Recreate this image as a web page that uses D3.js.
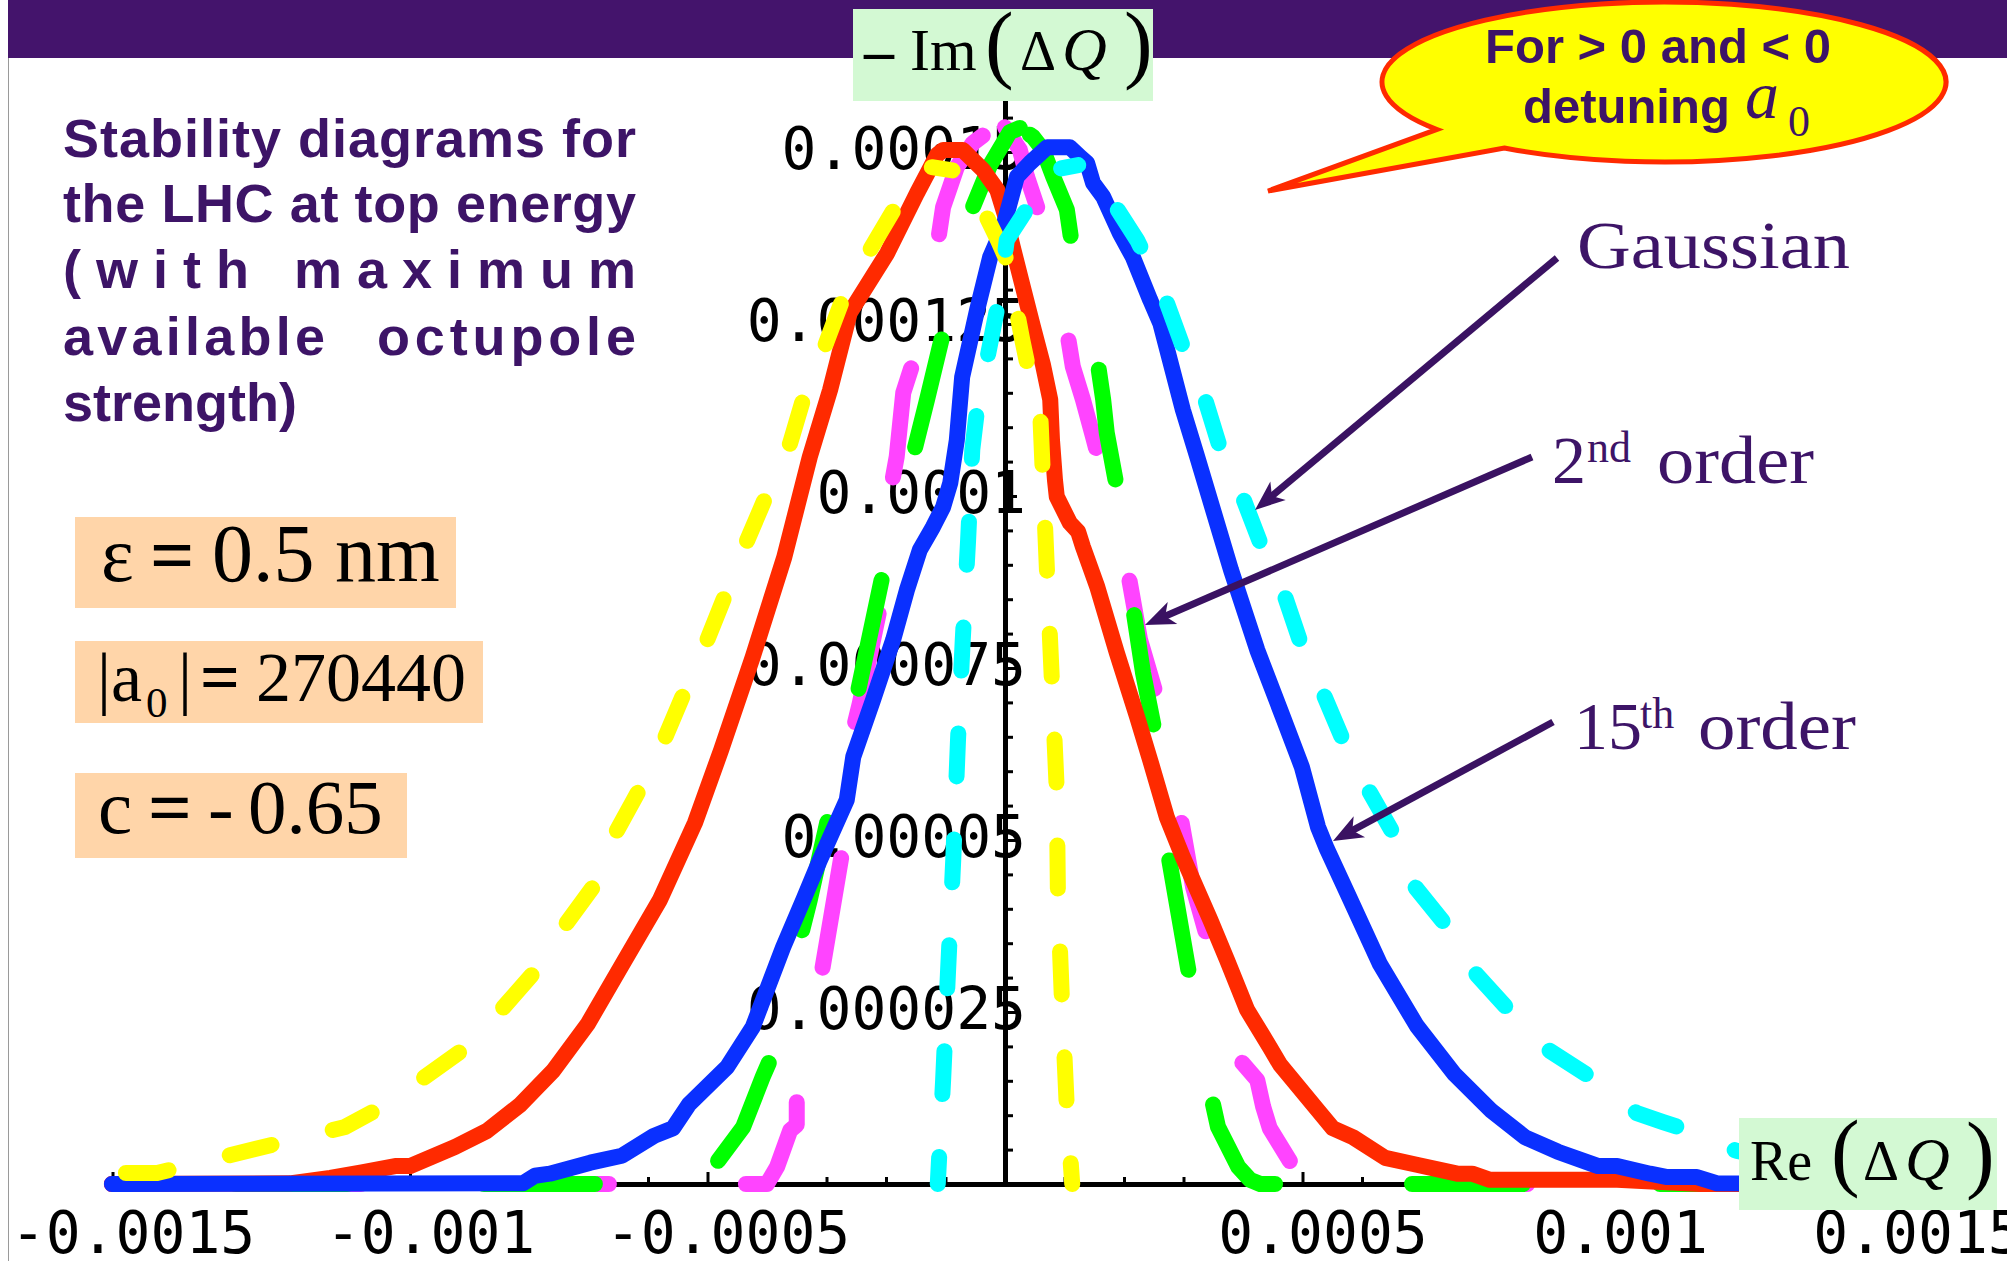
<!DOCTYPE html>
<html>
<head>
<meta charset="utf-8">
<script src="https://cdn.jsdelivr.net/npm/d3@7"></script>
<style>
  html, body { margin: 0; padding: 0; background: #ffffff; }
  svg { display: block; }
</style>
</head>
<body>
<svg id="chart" width="2007" height="1261" xmlns="http://www.w3.org/2000/svg"></svg>
<script>
// ---------------- DATA ----------------
// Re(ΔQ) values are given in units of 1e-3, -Im(ΔQ) values in units of 1e-6
const RE_UNIT = 1e-3;
const IM_UNIT = 1e-6;

const xTickValues = [-0.0015, -0.001, -0.0005, 0.0005, 0.001, 0.0015];
const xTickLabels = ["-0.0015", "-0.001", "-0.0005", "0.0005", "0.001", "0.0015"];
const yTickValues = [0.000025, 0.00005, 0.000075, 0.0001, 0.000125, 0.00015];
const yTickLabels = ["0.000025", "0.00005", "0.000075", "0.0001", "0.000125", "0.00015"];

// 2nd order, positive detuning (magenta dashed)
const secondPos = [[-1.501,0],[-0.400,0],[-0.383,2.5],[-0.373,4.9],[-0.361,7.8],[-0.350,8.6],[-0.350,12.2],[-0.311,29.2],[-0.274,48.1],[-0.255,66.0],[-0.244,69.9],[-0.210,83.9],[-0.190,101.9],[-0.182,105.7],[-0.171,115.0],[-0.155,119.3],[-0.113,136.8],[-0.104,142.0],[-0.081,147.8],[-0.054,151.3],[-0.025,153.2],[0.000,153.6],[0.025,150.3],[0.037,146.4],[0.054,142.0],[0.104,124.1],[0.114,118.8],[0.131,114.0],[0.148,108.6],[0.155,106.3],[0.207,88.8],[0.227,79.1],[0.255,70.8],[0.294,53.9],[0.316,43.2],[0.341,35.5],[0.395,18.0],[0.424,15.1],[0.434,11.2],[0.445,8.1],[0.484,2.6],[0.496,1.7],[0.513,0],[1.501,0]];

// 2nd order, negative detuning (green dashed)
const secondNeg = [[-1.501,0],[-0.504,0],[-0.494,2.0],[-0.440,8.3],[-0.407,15.6],[-0.395,18.0],[-0.345,35.5],[-0.328,41.3],[-0.294,54.4],[-0.249,70.8],[-0.205,88.8],[-0.155,105.7],[-0.131,114.0],[-0.104,123.7],[-0.054,142.0],[-0.025,148.1],[0.008,152.9],[0.025,153.5],[0.047,152.2],[0.064,150.3],[0.081,146.4],[0.104,141.6],[0.113,136.2],[0.156,119.3],[0.165,114.0],[0.171,109.2],[0.188,101.3],[0.215,83.9],[0.232,74.3],[0.252,65.6],[0.274,48.1],[0.311,29.7],[0.348,12.2],[0.358,8.3],[0.392,2.5],[0.412,0.6],[0.429,0],[1.501,0]];

// 15th order, negative detuning (red solid)
const fifteenthNeg = [[-1.501,0],[-1.202,0.1],[-1.134,0.9],[-1.081,1.7],[-1.025,2.6],[-1.000,2.6],[-0.924,5.4],[-0.871,7.7],[-0.815,11.5],[-0.760,16.4],[-0.701,23.3],[-0.644,31.8],[-0.580,41.3],[-0.521,52.5],[-0.477,63.1],[-0.424,76.6],[-0.371,91.1],[-0.328,105.7],[-0.294,115.4],[-0.261,126.6],[-0.198,135.3],[-0.148,144.0],[-0.114,149.6],[-0.104,150.3],[-0.071,150.3],[-0.037,147.4],[-0.013,144.5],[0.000,140.8],[0.013,136.2],[0.030,130.4],[0.047,124.6],[0.064,119.0],[0.076,114.0],[0.079,108.1],[0.084,102.3],[0.087,99.9],[0.109,96.1],[0.123,94.8],[0.131,92.6],[0.155,86.8],[0.188,77.2],[0.222,67.9],[0.244,61.6],[0.272,53.3],[0.299,47.5],[0.345,38.4],[0.373,32.6],[0.407,25.3],[0.445,19.9],[0.462,17.4],[0.524,10.9],[0.551,8.1],[0.585,6.8],[0.639,3.8],[0.692,2.8],[0.760,1.5],[0.785,1.5],[0.815,0.6],[1.029,0.6],[1.168,0],[1.501,0]];

// 15th order, positive detuning (blue solid)
const fifteenthPos = [[-1.501,0],[-0.810,0.1],[-0.790,1.2],[-0.765,1.5],[-0.731,2.3],[-0.697,3.1],[-0.644,4.1],[-0.590,7.0],[-0.558,8.1],[-0.531,11.6],[-0.467,17.0],[-0.424,22.8],[-0.373,34.4],[-0.339,41.3],[-0.311,47.1],[-0.266,55.8],[-0.255,62.1],[-0.222,70.3],[-0.188,79.1],[-0.165,86.3],[-0.143,92.2],[-0.121,95.5],[-0.104,98.4],[-0.092,101.9],[-0.081,108.1],[-0.072,117.3],[-0.047,127.0],[-0.025,134.7],[-0.003,139.1],[0.020,146.4],[0.042,148.4],[0.071,150.7],[0.109,150.7],[0.126,149.3],[0.138,148.4],[0.148,145.5],[0.165,143.5],[0.193,138.2],[0.215,134.7],[0.244,128.5],[0.261,125.1],[0.277,119.8],[0.299,112.5],[0.323,105.7],[0.380,89.2],[0.424,77.6],[0.467,67.9],[0.499,60.6],[0.526,51.9],[0.541,48.7],[0.580,41.4],[0.630,32.0],[0.692,23.0],[0.755,16.0],[0.818,10.6],[0.874,6.8],[0.929,4.7],[0.997,2.6],[1.029,2.6],[1.084,1.5],[1.113,1.0],[1.163,1.0],[1.197,0.1],[1.501,0]];

// Gaussian, negative detuning (yellow dashed)
const gaussNeg = [[-1.501,1.6],[-1.425,1.6],[-1.109,8.3],[-1.062,10.5],[-0.987,14.8],[-0.916,19.2],[-0.854,24.6],[-0.795,30.4],[-0.743,37.2],[-0.692,43.2],[-0.661,50.0],[-0.612,57.7],[-0.575,64.1],[-0.536,72.1],[-0.504,78.3],[-0.467,86.3],[-0.435,93.2],[-0.397,100.9],[-0.361,107.7],[-0.336,115.0],[-0.303,121.7],[-0.269,129.5],[-0.224,136.2],[-0.182,142.3],[-0.123,147.8],[-0.071,147.1],[-0.050,144.0],[-0.012,137.2],[0.008,133.3],[0.013,129.9],[0.029,122.7],[0.050,114.0],[0.059,112.5],[0.071,88.2],[0.079,72.8],[0.087,57.3],[0.089,41.7],[0.096,26.0],[0.104,11.0],[0.113,0]];

// Gaussian, positive detuning (cyan dashed)
const gaussPos = [[-0.113,0],[-0.104,15.1],[-0.096,30.4],[-0.087,47.1],[-0.079,64.5],[-0.071,79.1],[-0.062,93.6],[-0.055,106.7],[-0.047,112.5],[-0.008,129.5],[0.003,137.2],[0.054,144.0],[0.064,147.1],[0.123,148.1],[0.182,142.6],[0.222,137.2],[0.266,129.5],[0.299,121.7],[0.333,115.0],[0.361,107.1],[0.397,100.4],[0.429,93.2],[0.467,86.3],[0.499,78.1],[0.531,72.1],[0.570,64.1],[0.610,57.4],[0.655,50.6],[0.689,43.2],[0.743,37.4],[0.793,30.4],[0.854,24.6],[0.913,19.5],[0.992,15.1],[1.062,10.3],[1.106,9.0],[1.148,7.8],[1.230,4.8],[1.425,1.6],[1.501,1.6]];

// ---------------- STYLES (drawing order bottom -> top) ----------------
// dashed curves are stroked in two halves (rising / falling side), each with its own dash phase
// "phase" = a point (same units as the data) where a visible dash begins on that half
const LINE_W = 16;
const seriesList = [
  { data: secondPos,    color: "#ff44ff", dash: [111, 137], phase: [[-0.255, 66.0], [0.207, 88.8]] },
  { data: secondNeg,    color: "#00ff00", dash: [111, 137], phase: [[-0.249, 70.8], [0.215, 83.9]] },
  { data: fifteenthNeg, color: "#ff2a00", dash: null },
  { data: fifteenthPos, color: "#0a30ff", dash: null },
  { data: gaussNeg,     color: "#ffff00", dash: [43, 63],   phase: [[-0.987, 14.8], [0.062, 96.5]] },
  { data: gaussPos,     color: "#00ffff", dash: [43, 63],   phase: [[-0.067, 88.8], [0.397, 100.4]] }
];

// ---------------- CHART ----------------
const W = 2007, H = 1261;
const PURPLE = "#44146c";
const TEXT_PURPLE = "#3d1467";
const svg = d3.select("#chart");

svg.append("rect").attr("x", 0).attr("y", 0).attr("width", W).attr("height", H).attr("fill", "#ffffff");
svg.append("rect").attr("x", 8).attr("y", 0).attr("width", W - 8).attr("height", 58).attr("fill", PURPLE);
svg.append("line").attr("x1", 8.5).attr("x2", 8.5).attr("y1", 58).attr("y2", H)
  .attr("stroke", "#9a9a9a").attr("stroke-width", 1);

// left title block
const sans = "'Liberation Sans', Arial, sans-serif";
const titleG = svg.append("g").attr("fill", TEXT_PURPLE)
  .style("font-family", sans).style("font-weight", "bold").style("font-size", "54px");
titleG.append("text").attr("x", 63).attr("y", 157).attr("textLength", 573).attr("lengthAdjust", "spacing").text("Stability diagrams for");
titleG.append("text").attr("x", 63).attr("y", 222).attr("textLength", 573).attr("lengthAdjust", "spacing").text("the LHC at top energy");
titleG.append("text").attr("x", 63).attr("y", 288).attr("textLength", 573).attr("lengthAdjust", "spacing").text("(with maximum");
titleG.append("text").attr("x", 63).attr("y", 355).attr("textLength", 262).attr("lengthAdjust", "spacing").text("available");
titleG.append("text").attr("x", 377).attr("y", 355).attr("textLength", 259).attr("lengthAdjust", "spacing").text("octupole");
titleG.append("text").attr("x", 63).attr("y", 421).text("strength)");

// parameter boxes
const PEACH = "#ffd5a9";
const serif = "'Liberation Serif', 'Times New Roman', serif";
svg.append("rect").attr("x", 75).attr("y", 517).attr("width", 381).attr("height", 91).attr("fill", PEACH);
svg.append("rect").attr("x", 75).attr("y", 641).attr("width", 408).attr("height", 82).attr("fill", PEACH);
svg.append("rect").attr("x", 75).attr("y", 773).attr("width", 332).attr("height", 85).attr("fill", PEACH);

const b1 = svg.append("g").style("font-family", serif).attr("fill", "#000");
b1.append("text").attr("x", 101).attr("y", 581).style("font-size", "78px").text("ε");
b1.append("text").attr("x", 150).attr("y", 581).style("font-size", "78px").style("font-weight", "bold").text("=");
b1.append("text").attr("x", 212).attr("y", 581).style("font-size", "82px").text("0.5 nm");

b1.append("text").attr("x", 97).attr("y", 701).style("font-size", "70px").text("|a");
b1.append("text").attr("x", 146).attr("y", 717).style("font-size", "43px").text("0");
b1.append("text").attr("x", 178).attr("y", 701).style("font-size", "70px").text("|");
b1.append("text").attr("x", 200).attr("y", 701).style("font-size", "70px").style("font-weight", "bold").text("=");
b1.append("text").attr("x", 256).attr("y", 701).style("font-size", "70px").text("270440");

b1.append("text").attr("x", 98).attr("y", 833).style("font-size", "77px").text("c");
b1.append("text").attr("x", 148).attr("y", 833).style("font-size", "77px").style("font-weight", "bold").text("=");
b1.append("text").attr("x", 208).attr("y", 833).style("font-size", "77px").text("-");
b1.append("text").attr("x", 248).attr("y", 833).style("font-size", "77px").text("0.65");

// scales
const x = d3.scaleLinear().domain([-0.0015, 0.0015]).range([112.5, 1897.5]);
const y = d3.scaleLinear().domain([0, 0.00015]).range([1184, 152]);
const yTop = 0.000158;

const monoFont = "'DejaVu Sans Mono', monospace";
const eps = 1e-12;
const isIn = (arr, v) => arr.findIndex(a => Math.abs(a - v) < eps);

// x axis (ticks every 1e-4, pointing inward)
const xMinor = d3.range(-15, 16).filter(k => k !== 0).map(k => k * 1e-4);
const xAxis = d3.axisBottom(x).tickValues(xMinor).tickSizeInner(-7).tickSizeOuter(0).tickPadding(0)
  .tickFormat(d => { const i = isIn(xTickValues, d); return i >= 0 ? xTickLabels[i] : ""; });
const gx = svg.append("g").attr("transform", `translate(0,${y(0)})`).call(xAxis);
gx.select(".domain").attr("stroke", "#000").attr("stroke-width", 5);
gx.selectAll(".tick line").attr("stroke", "#000").attr("stroke-width", 3)
  .attr("y2", d => isIn(xTickValues, d) >= 0 ? -12 : -7);
gx.selectAll(".tick text").attr("y", 69).attr("dy", 0).attr("dx", 20).attr("fill", "#000")
  .style("font-family", monoFont).style("font-size", "58px");

// y axis (ticks every 5e-6, pointing inward)
const yAxisScale = y.copy().domain([0, yTop]).range([y(0), y(yTop)]);
const yMinor = d3.range(1, 32).map(k => k * 5e-6);
const yAxis = d3.axisLeft(yAxisScale).tickValues(yMinor).tickSizeInner(-8).tickSizeOuter(0).tickPadding(0)
  .tickFormat(d => { const i = isIn(yTickValues, d); return i >= 0 ? yTickLabels[i] : ""; });
const gy = svg.append("g").attr("transform", `translate(${x(0)},0)`).call(yAxis);
gy.select(".domain").attr("stroke", "#000").attr("stroke-width", 5);
gy.selectAll(".tick line").attr("stroke", "#000").attr("stroke-width", 3)
  .attr("x2", d => isIn(yTickValues, d) >= 0 ? 12 : 8);
gy.selectAll(".tick text").attr("x", 21).attr("y", -4).attr("dy", "0.36em").attr("text-anchor", "end").attr("fill", "#000")
  .style("font-family", monoFont).style("font-size", "58px");

// curves
const line = d3.line().x(d => x(d[0] * RE_UNIT)).y(d => y(d[1] * IM_UNIT));
const curvesG = svg.append("g").attr("fill", "none");

function lengthAt(pathNode, px, py) {
  const total = pathNode.getTotalLength();
  let best = 0, bestD = Infinity;
  for (let s = 0; s <= total; s += 1) {
    const p = pathNode.getPointAtLength(s);
    const d = (p.x - px) * (p.x - px) + (p.y - py) * (p.y - py);
    if (d < bestD) { bestD = d; best = s; }
  }
  return best;
}

seriesList.forEach(s => {
  if (!s.dash) {
    curvesG.append("path").attr("d", line(s.data))
      .attr("stroke", s.color).attr("stroke-width", LINE_W)
      .attr("stroke-linejoin", "round").attr("stroke-linecap", "round");
    return;
  }
  const peak = d3.maxIndex(s.data, d => d[1]);
  const halves = [s.data.slice(0, peak + 1), s.data.slice(peak)];
  const period = s.dash[0] + s.dash[1];
  halves.forEach((h, i) => {
    const p = curvesG.append("path").attr("d", line(h))
      .attr("stroke", s.color).attr("stroke-width", LINE_W)
      .attr("stroke-linejoin", "round").attr("stroke-linecap", "round")
      .attr("stroke-dasharray", s.dash.join(","));
    const a = s.phase[i];
    const sa = lengthAt(p.node(), x(a[0] * RE_UNIT), y(a[1] * IM_UNIT)) + LINE_W / 2;
    const off = ((-sa) % period + period) % period;
    p.attr("stroke-dashoffset", off);
  });
});

// axis label boxes
const MINT = "#d3f9d3";
svg.append("rect").attr("x", 853).attr("y", 9).attr("width", 300).attr("height", 92).attr("fill", MINT);
const imG = svg.append("g").style("font-family", serif).attr("fill", "#000");
imG.append("text").attr("x", 864).attr("y", 71).style("font-size", "60px").style("font-weight", "bold").text("–");
imG.append("text").attr("x", 910).attr("y", 70).style("font-size", "60px").text("Im");
imG.append("text").attr("x", 985).attr("y", 72).style("font-size", "86px").text("(");
imG.append("text").attr("x", 1020).attr("y", 70).style("font-size", "56px").text("Δ");
imG.append("text").attr("x", 1062).attr("y", 70).style("font-size", "62px").style("font-style", "italic").text("Q");
imG.append("text").attr("x", 1124).attr("y", 72).style("font-size", "86px").text(")");

svg.append("rect").attr("x", 1739).attr("y", 1118).attr("width", 258).attr("height", 92).attr("fill", MINT);
const reG = svg.append("g").style("font-family", serif).attr("fill", "#000");
reG.append("text").attr("x", 1750).attr("y", 1180).style("font-size", "56px").text("Re");
reG.append("text").attr("x", 1831).attr("y", 1180).style("font-size", "86px").text("(");
reG.append("text").attr("x", 1863).attr("y", 1180).style("font-size", "56px").text("Δ");
reG.append("text").attr("x", 1905).attr("y", 1180).style("font-size", "62px").style("font-style", "italic").text("Q");
reG.append("text").attr("x", 1966).attr("y", 1182).style("font-size", "86px").text(")");

// callout bubble
const cx = 1664, cy = 82, rx = 282, ry = 80;
const ptA = [cx + rx * Math.cos(143.6 * Math.PI / 180), cy + ry * Math.sin(143.6 * Math.PI / 180)];
const ptB = [cx + rx * Math.cos(124.5 * Math.PI / 180), cy + ry * Math.sin(124.5 * Math.PI / 180)];
const tip = [1268, 191];
svg.append("path")
  .attr("d", `M${ptB[0]},${ptB[1]} A${rx},${ry} 0 1 0 ${ptA[0]},${ptA[1]} L${tip[0]},${tip[1]} Z`)
  .attr("fill", "#ffff00").attr("stroke", "#ff2a00").attr("stroke-width", 5).attr("stroke-linejoin", "miter");
const calG = svg.append("g").attr("fill", TEXT_PURPLE);
calG.append("text").attr("x", 1658).attr("y", 63).attr("text-anchor", "middle")
  .style("font-family", sans).style("font-weight", "bold").style("font-size", "49px")
  .text("For > 0 and < 0");
calG.append("text").attr("x", 1523).attr("y", 123)
  .style("font-family", sans).style("font-weight", "bold").style("font-size", "49px")
  .text("detuning");
calG.append("text").attr("x", 1745).attr("y", 118).style("font-family", serif).style("font-style", "italic").style("font-size", "68px").text("a");
calG.append("text").attr("x", 1788).attr("y", 136).style("font-family", serif).style("font-size", "44px").text("0");

// curve labels and arrows
const labG = svg.append("g").attr("fill", TEXT_PURPLE).style("font-family", serif);
labG.append("text").attr("x", 1577).attr("y", 268).style("font-size", "68px")
  .attr("textLength", 273).attr("lengthAdjust", "spacingAndGlyphs").text("Gaussian");
labG.append("text").attr("x", 1552).attr("y", 483).style("font-size", "68px").text("2");
labG.append("text").attr("x", 1587).attr("y", 462).style("font-size", "44px").text("nd");
labG.append("text").attr("x", 1657).attr("y", 483).style("font-size", "68px")
  .attr("textLength", 157).attr("lengthAdjust", "spacingAndGlyphs").text("order");
labG.append("text").attr("x", 1574).attr("y", 749).style("font-size", "68px").text("15");
labG.append("text").attr("x", 1640).attr("y", 728).style("font-size", "44px").text("th");
labG.append("text").attr("x", 1698).attr("y", 749).style("font-size", "68px")
  .attr("textLength", 158).attr("lengthAdjust", "spacingAndGlyphs").text("order");

const ARROW = "#3a1262";
function arrow(x1, y1, x2, y2) {
  const ang = Math.atan2(y2 - y1, x2 - x1);
  const len = Math.hypot(x2 - x1, y2 - y1);
  const g = svg.append("g").attr("transform", `translate(${x1},${y1}) rotate(${ang * 180 / Math.PI})`);
  g.append("line").attr("x1", 0).attr("y1", 0).attr("x2", len - 18).attr("y2", 0)
    .attr("stroke", ARROW).attr("stroke-width", 7);
  g.append("path").attr("d", `M${len},0 L${len - 30},-12 L${len - 22},0 L${len - 30},12 Z`).attr("fill", ARROW);
}
arrow(1557, 258, 1255, 510);
arrow(1532, 457, 1145, 625);
arrow(1553, 722, 1333, 841);
</script>
</body>
</html>
